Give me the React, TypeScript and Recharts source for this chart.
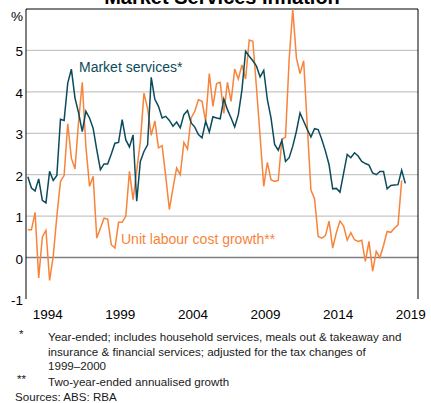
import React from 'react';
import { LineChart, Line, XAxis, YAxis, CartesianGrid, ReferenceLine } from 'recharts';

// Quarterly, first observation in Q1 1993
const FIRST_QUARTER = 1993.125;

// Market services inflation, year-ended, %
const MARKET_SERVICES = [
  1.95, 1.68, 1.61, 1.9, 1.38, 1.32, 2.08, 1.86, 1.98, 3.34,
  3.31, 4.21, 4.55, 3.85, 3.49, 3.04, 3.53, 3.37, 3.12, 2.6,
  2.12, 2.26, 2.26, 2.5, 2.76, 2.78, 3.33, 2.84, 2.67, 2.96,
  1.36, 2.32, 2.56, 2.72, 4.35, 3.82, 3.65,
  3.37, 3.41, 3.31, 3.17, 3.27, 3.13, 3.45, 3.55, 3.25, 3.15,
  2.97, 2.89, 3.29, 3.03, 3.4, 3.37, 3.35, 3.83, 3.57, 3.37,
  3.15, 3.45, 4.05, 4.98, 4.86, 4.75, 4.62, 4.36, 4.52, 3.81,
  3.37, 2.73, 2.59, 2.83, 2.32, 2.41, 2.69,
  3.05, 3.49, 3.29, 3.09, 2.91, 3.11, 3.09, 2.85, 2.57, 2.24,
  1.66, 1.67, 1.58, 2.03, 2.49, 2.41, 2.53, 2.45, 2.32, 2.27,
  2.23, 2.04, 2.0, 2.08, 2.08, 1.66, 1.74, 1.75, 1.76, 2.11, 1.79,
];

// Unit labour cost growth, two-year-ended annualised, %
const UNIT_LABOUR_COST = [
  0.67, 0.67, 1.09, -0.49, 0.5, 0.66, -0.55, 0.03, 1.0, 1.84,
  1.98, 3.23, 2.4, 2.14, 3.3, 4.23, 2.68, 1.72, 1.96, 0.47,
  0.71, 0.95, 0.93, 0.31, 0.23, 0.85, 0.85, 1.0, 2.08, 1.4,
  2.1, 2.8, 3.97, 3.6, 2.95, 3.3, 2.65,
  2.7, 1.96, 1.16, 1.68, 2.16, 2.0, 2.78, 2.62, 3.37, 3.53,
  3.81, 3.77, 3.29, 4.44, 3.65, 4.2, 4.23, 3.48, 4.23, 3.77,
  4.55, 4.31, 4.65, 4.31, 5.25, 5.22, 4.1, 2.93, 1.72, 2.3,
  1.88, 1.84, 1.86, 2.85, 2.91, 4.78, 5.99,
  4.82, 4.44, 4.75, 3.17, 1.63, 1.42, 0.51, 0.47, 0.53, 0.88,
  0.23, 0.6, 0.88, 0.76, 0.42, 0.6, 0.43, 0.39, 0.42, -0.09,
  0.39, -0.33, 0.15, 0.0, 0.29, 0.63, 0.61, 0.71, 0.79, 1.86,
];

const YEAR_TICKS = [
  1993, 1994, 1995, 1996, 1997, 1998, 1999, 2000, 2001, 2002, 2003, 2004, 2005, 2006,
  2007, 2008, 2009, 2010, 2011, 2012, 2013, 2014, 2015, 2016, 2017, 2018, 2019, 2020,
];
const LABEL_YEARS = [1994, 1999, 2004, 2009, 2014, 2019];
const Y_TICKS = [-1, 0, 1, 2, 3, 4, 5, 6];

const TEAL = '#0b4b5b';
const ORANGE = '#f7843a';
const FONT = '"Liberation Sans", Arial, sans-serif';

const data = MARKET_SERVICES.map((ms, i) => ({
  t: FIRST_QUARTER + i * 0.25,
  ms,
  ulc: i < UNIT_LABOUR_COST.length ? UNIT_LABOUR_COST[i] : null,
}));

// "%" sits in place of the top tick, a little lower
function YTick({ x, y, payload, textAnchor }: any) {
  const top = payload.value === 6;
  return (
    <text x={x} y={y} dy={top ? 12 : 6} textAnchor={textAnchor} fontSize={13.5} fill="#000">
      {top ? '%' : payload.value}
    </text>
  );
}

export default function App() {
  return (
    <div style={{ position: 'absolute', left: 0, top: 0, width: 431, height: 403, fontFamily: FONT, background: '#fff' }}>
      <LineChart width={431} height={403} data={data} margin={{ top: 9, right: 0, bottom: 74, left: 0 }}>
        <CartesianGrid vertical={false} horizontalValues={[1, 2, 3, 4, 5]} stroke="#c6c6c6" strokeWidth={1.2} />
        <ReferenceLine y={0} stroke="#808080" strokeWidth={1.6} />
        <ReferenceLine y={6} stroke="#000" strokeWidth={1} />
        <XAxis
          dataKey="t"
          type="number"
          domain={[1993, 2020]}
          ticks={YEAR_TICKS}
          interval={0}
          tick={false}
          tickSize={5}
          mirror
          height={0}
          axisLine={{ stroke: '#000' }}
          tickLine={{ stroke: '#000' }}
        />
        <XAxis
          xAxisId="lbl"
          dataKey="t"
          type="number"
          domain={[1993, 2020]}
          ticks={LABEL_YEARS.map((y) => y + 0.5)}
          interval={0}
          tickFormatter={(v: number) => String(Math.floor(v))}
          axisLine={false}
          tickLine={false}
          tickSize={8}
          tickMargin={2}
          height={30}
          tick={{ fontSize: 13.5, fill: '#000' }}
        />
        <YAxis
          type="number"
          domain={[-1, 6]}
          ticks={Y_TICKS}
          interval={0}
          width={26}
          tickLine={false}
          tickSize={1}
          tickMargin={2}
          axisLine={{ stroke: '#000' }}
          tick={<YTick />}
        />
        <YAxis
          yAxisId="right"
          orientation="right"
          type="number"
          domain={[-1, 6]}
          ticks={Y_TICKS}
          interval={0}
          width={13}
          tickLine={false}
          tickSize={1}
          tickMargin={2}
          axisLine={{ stroke: '#000' }}
          tick={<YTick />}
        />
        <Line dataKey="ulc" stroke={ORANGE} strokeWidth={1.5} dot={false} isAnimationActive={false} connectNulls={false} />
        <Line dataKey="ms" stroke={TEAL} strokeWidth={1.5} dot={false} isAnimationActive={false} />
      </LineChart>
      <svg width={431} height={403} style={{ position: 'absolute', left: 0, top: 0, pointerEvents: 'none' }}>
        <text x={222} y={4} textAnchor="middle" fontSize={20} fontWeight="bold" fill="#000">
          Market Services Inflation
        </text>
        <text x={79} y={71.5} fontSize={14} fill={TEAL}>Market services*</text>
        <text x={121} y={244} fontSize={14} fill={ORANGE}>Unit labour cost growth**</text>
        <g fontSize={11.6} fill="#1a1a1a">
          <text x={19} y={338}>*</text>
          <text x={48} y={341}>Year-ended; includes household services, meals out &amp; takeaway and</text>
          <text x={48} y={355.5}>insurance &amp; financial services; adjusted for the tax changes of</text>
          <text x={48} y={370}>1999–2000</text>
          <text x={17} y={383}>**</text>
          <text x={48} y={385.5}>Two-year-ended annualised growth</text>
          <text x={15} y={401}>Sources: ABS: RBA</text>
        </g>
      </svg>
    </div>
  );
}
